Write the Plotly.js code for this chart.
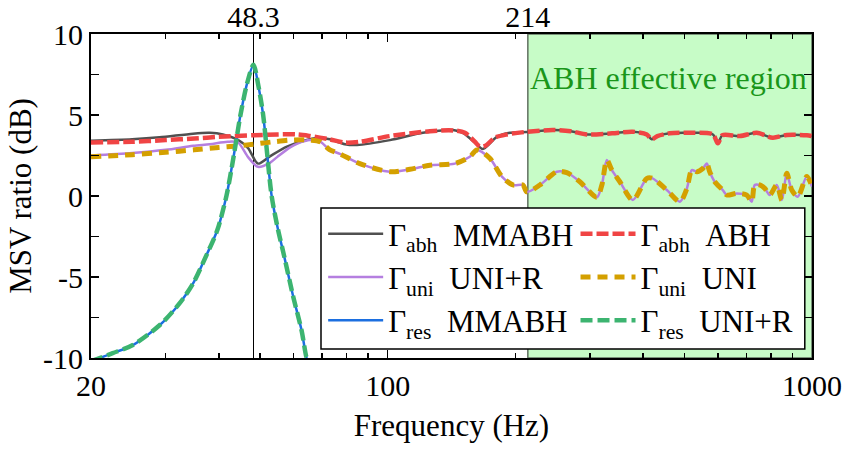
<!DOCTYPE html>
<html>
<head>
<meta charset="utf-8">
<script src="https://cdn.plot.ly/plotly-3.0.1.min.js"></script>
<style>html,body{margin:0;padding:0;background:#fff;}#chart{width:843px;height:451px;}</style>
</head>
<body>
<div id="chart"></div>
<script>
// Γ_abh MMABH (dark gray solid)
const abhMMF = [20,25,29,34.8,38.1,40.9,44.4,46.9,49.5,52.8,57.9,63.2,69.3,73.1,79.3,84.7,101.3,121.1,142.5,150.4,160.5,167.6,180.9,194.1,212.9,245,270,295,338,378,408,419,432,462,523,584,600,615,676,741,808,872,972,1000];
const abhMMV = [3.41,3.5,3.62,3.85,3.9,3.8,3.46,2.96,2.0,2.45,3.05,3.4,3.6,3.5,3.2,3.15,3.45,3.9,4.07,3.9,3.3,2.9,3.65,3.9,3.95,4.07,4.0,3.8,3.87,3.97,3.8,3.5,3.7,3.87,3.9,3.8,3.25,3.75,3.7,3.9,3.6,3.77,3.75,3.7];
// Γ_abh ABH (red dashed)
const abhF = [20,25,30,35,40,48.3,55,61,65.6,73,79.3,86,101.3,125.8,142.5,152.1,160.5,164.9,170,178.9,191,214,245,270,295,338,378,408,419,432,462,523,584,600,615,676,741,808,872,972,1000];
const abhV = [3.3,3.35,3.45,3.55,3.65,3.75,3.8,3.8,3.7,3.5,3.3,3.35,3.7,4.0,4.05,3.9,3.35,3.05,3.1,3.6,3.8,3.97,4.07,4.0,3.8,3.87,3.97,3.8,3.5,3.7,3.87,3.9,3.8,3.25,3.75,3.7,3.9,3.6,3.77,3.75,3.7];
// Γ_uni UNI+R (purple solid)
const uniRF = [20,25,30,34.8,38.1,42,44.4,46.9,49.5,52.8,54.9,58.9,61.5,65.6,69.3,73.1,77.2,86,101.3,112.9,125.8,144,156.2,162.3,174.1,185.9,197.3,208.3,213,228.4,250.5,264.4,283.8,311.2,319.8,328.5,337.6,352.6,378.3,408.2,421,454.9,488.2,507,521,535.4,553,565,574,590,616,630,665,702,721,733,753,774,795,826,849,872,896,926,972,1000];
const uniRV = [2.5,2.65,2.85,3.1,3.2,3.35,3.3,2.4,1.8,2.05,2.4,3.0,3.25,3.45,3.35,2.85,2.6,2.0,1.5,1.65,1.9,2.0,2.42,2.84,2.33,1.2,0.68,0.68,0.25,0.68,1.5,1.44,0.88,-0.08,0.68,2.22,1.6,0.88,-0.25,1.09,1.09,0.37,-0.35,0.45,1.6,1.5,1.7,2.0,1.5,0.88,0.37,0.06,0.16,0.06,-0.35,0.68,0.68,0.47,0.06,0.68,-0.25,1.4,0.37,-0.04,1.2,0.58];
// Γ_uni UNI (gold dashed)
const uniF = [20,25,30,35,40,44,48.3,54,58.9,63.2,65.6,69.3,73.1,77.2,86,101.3,112.9,125.8,144,156.2,162.3,174.1,185.9,197.3,208.3,213,228.4,250.5,264.4,283.8,311.2,319.8,328.5,337.6,352.6,378.3,408.2,421,454.9,488.2,507,521,535.4,553,565,574,590,616,630,665,702,721,733,753,774,795,826,849,872,896,926,972,1000];
const uniV = [2.42,2.55,2.7,2.85,3.0,3.08,3.2,3.35,3.45,3.47,3.45,3.35,2.85,2.6,2.0,1.5,1.65,1.9,2.0,2.42,2.84,2.33,1.2,0.68,0.68,0.25,0.68,1.5,1.44,0.88,-0.08,0.68,2.22,1.6,0.88,-0.25,1.09,1.09,0.37,-0.35,0.45,1.6,1.5,1.7,2.0,1.5,0.88,0.37,0.06,0.16,0.06,-0.35,0.68,0.68,0.47,0.06,0.68,-0.25,1.4,0.37,-0.04,1.2,0.58];
// Γ_res (blue solid MMABH, green dashed UNI+R)
const resF = [20,22.5,25.1,29.1,32.4,34.8,37.5,39.7,41.7,43.4,45.0,46.7,48.3,49.6,50.9,53.3,55.2,56.8,59.9,62.7,64.3,64.6];
const resMMV = [-10.2,-9.7,-9.2,-7.95,-6.6,-5.4,-3.6,-2.1,0,2.5,5.0,7.0,8.1,6.8,5.0,0,-2.1,-3.5,-6.2,-8.3,-9.9,-10.0];
const resUNIV = [-10.2,-9.7,-9.2,-7.95,-6.6,-5.4,-3.6,-2.1,0,2.5,5.0,7.0,8.1,6.8,5.0,0,-2.1,-3.5,-6.2,-8.3,-9.9,-10.0];

const xTickVals = [20,100,1000];
const xTickText = ['20','100','1000'];
const xMinorVals = [30,40,50,60,70,80,90,200,300,400,500,600,700,800,900];
const yTickVals = [-10,-5,0,5,10];
const yTickText = ['-10','-5','0','5','10'];
const topTickVals = [48.3,214];
const topTickText = ['48.3','214'];
const regionStart = 214, regionEnd = 1000, resonance = 48.3;

const FONT = 'Liberation Serif';
const NB = '\u00a0';
const sp = {shape:'spline', smoothing:0.8};
function tr(x, y, name, legend, group, line) {
  return {x:x, y:y, name:name, legend:legend, legendgroup:group, mode:'lines', line:Object.assign(line, sp)};
}
const traces = [
  tr(abhMMF, abhMMV, 'Γ<sub>abh</sub>'+NB+NB+'MMABH', 'legend', 'g1', {color:'#505050', width:2.5}),
  tr(uniRF, uniRV, 'Γ<sub>uni</sub>'+NB+NB+'UNI+R', 'legend', 'g2', {color:'#b57fe0', width:2.5}),
  tr(resF, resMMV, 'Γ<sub>res</sub>'+NB+NB+'MMABH', 'legend', 'g3', {color:'#1c6fe0', width:2.5}),
  tr(abhF, abhV, 'Γ<sub>abh</sub>'+NB+NB+'ABH', 'legend2', 'g4', {color:'#f04444', width:4.5, dash:'12px,4px'}),
  tr(uniF, uniV, 'Γ<sub>uni</sub>'+NB+NB+'UNI', 'legend2', 'g5', {color:'#d4a000', width:5, dash:'10px,7px'}),
  tr(resF, resUNIV, 'Γ<sub>res</sub>'+NB+NB+'UNI+R', 'legend2', 'g6', {color:'#3cb470', width:4.5, dash:'12px,5px'}),
  {x:[], y:[], xaxis:'x2', yaxis:'y', showlegend:false, hoverinfo:'skip', mode:'lines'}
];

const xr = [Math.log10(20), Math.log10(1000)];
const legBase = {xanchor:'left', yanchor:'top', orientation:'v', traceorder:'grouped', tracegroupgap:0,
  itemwidth:55, bgcolor:'rgba(0,0,0,0)', borderwidth:0, font:{family:FONT, size:31, color:'#000'}};
const layout = {
  width:843, height:451,
  margin:{l:91, r:31, t:34, b:93},
  paper_bgcolor:'#fff', plot_bgcolor:'#fff',
  font:{family:FONT, size:30, color:'#000'},
  showlegend:true,
  xaxis:{type:'log', range:xr, tickmode:'array', tickvals:xTickVals, ticktext:xTickText,
    ticks:'inside', ticklen:8, tickwidth:1.5, tickcolor:'#000',
    showline:true, linewidth:2, linecolor:'#000', mirror:'allticks', showgrid:false, zeroline:false,
    minor:{tickmode:'array', tickvals:xMinorVals, ticks:'inside', ticklen:5, tickwidth:1.5, tickcolor:'#000', showgrid:false},
    title:{text:'Frequency (Hz)', standoff:13, font:{family:FONT, size:31}}, tickfont:{family:FONT, size:30}},
  xaxis2:{type:'log', range:xr, overlaying:'x', side:'top', tickmode:'array', tickvals:topTickVals, ticktext:topTickText,
    ticks:'', showline:false, showgrid:false, zeroline:false, tickfont:{family:FONT, size:30}},
  yaxis:{range:[-10,10], tickmode:'array', tickvals:yTickVals, ticktext:yTickText,
    ticks:'inside', ticklen:8, tickwidth:1.5, tickcolor:'#000',
    showline:true, linewidth:2, linecolor:'#000', mirror:'allticks', showgrid:false, zeroline:false,
    minor:{dtick:2.5, tick0:0, ticks:'inside', ticklen:5, tickwidth:1.5, tickcolor:'#000', showgrid:false},
    title:{text:'MSV ratio (dB)', standoff:2, font:{family:FONT, size:31}}, tickfont:{family:FONT, size:30}},
  legend:Object.assign({x:0.322, y:0.466}, legBase),
  legend2:Object.assign({x:0.672, y:0.466}, legBase),
  shapes:[
    {type:'rect', xref:'x', yref:'y', x0:regionStart, x1:regionEnd, y0:-10, y1:10,
      fillcolor:'rgb(199,252,199)', line:{color:'#607060', width:1.5}, layer:'below'},
    {type:'line', xref:'x', yref:'y', x0:resonance, x1:resonance, y0:-10, y1:10,
      line:{color:'#000', width:1}, layer:'below'},
    {type:'rect', xref:'paper', yref:'paper', x0:0.319, x1:0.990, y0:0.028, y1:0.463,
      fillcolor:'#fff', line:{color:'#000', width:1.5}, layer:'above'}
  ],
  annotations:[
    {xref:'paper', yref:'paper', x:0.801, y:0.864, text:'ABH effective region', showarrow:false,
      font:{family:FONT, size:32, color:'#1a961a'}, xanchor:'center', yanchor:'middle'}
  ]
};
Plotly.newPlot('chart', traces, layout, {displayModeBar:false, staticPlot:true});
</script>
</body>
</html>
